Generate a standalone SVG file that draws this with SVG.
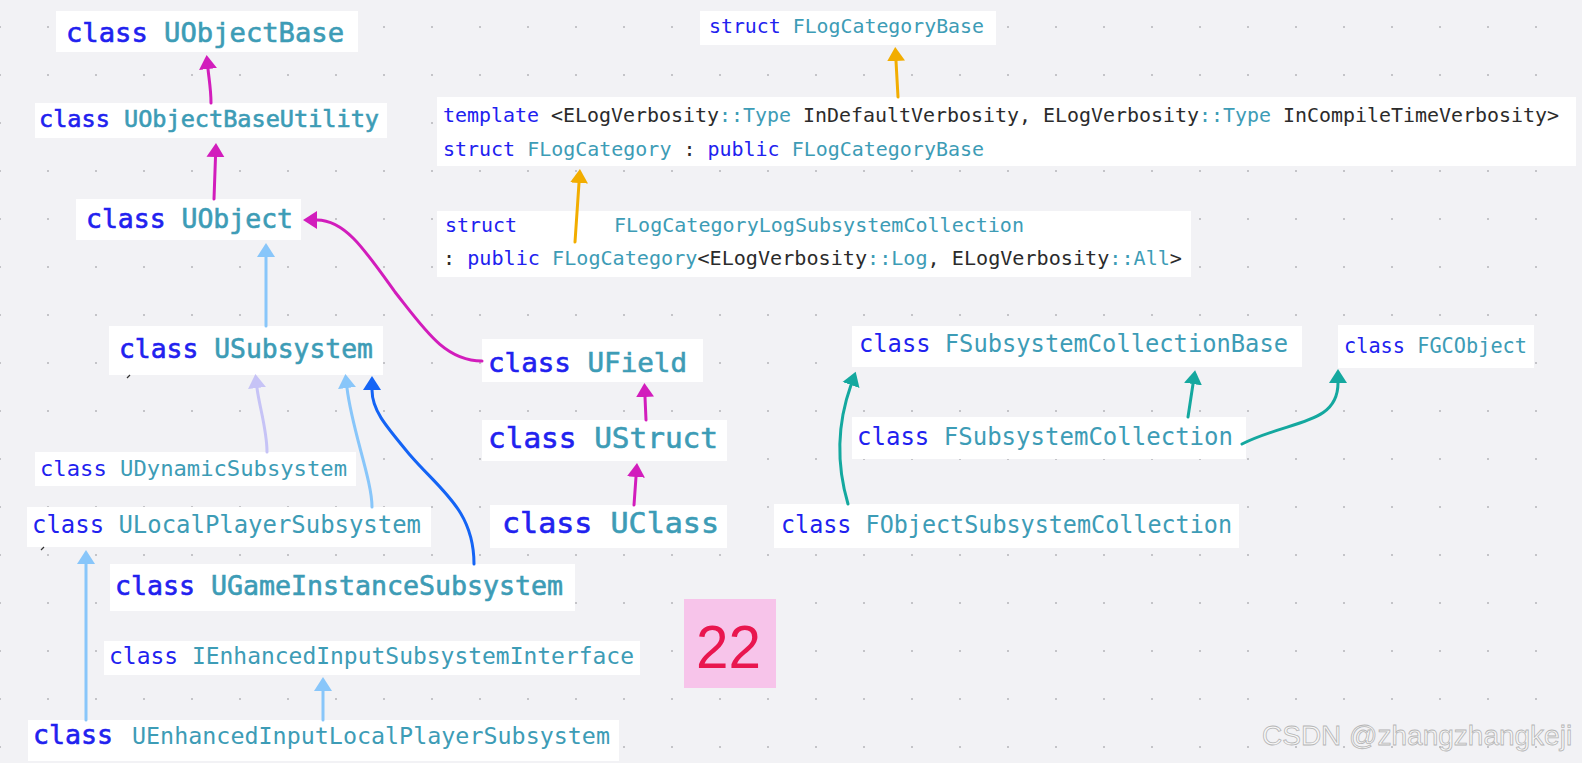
<svg xmlns="http://www.w3.org/2000/svg" width="1582" height="763" viewBox="0 0 1582 763">
<style>
.box{fill:#ffffff}
.t{font-family:"DejaVu Sans Mono","Liberation Mono",monospace}
.k{fill:#2121ef}
.n{fill:#3d9cb6}
.d{fill:#2b2b2b}
.w .k{stroke:#2121ef;stroke-width:0.6}
.w .n{stroke:#3d9cb6;stroke-width:0.6}
.c{fill:none;stroke-width:3;stroke-linecap:round}
.mag{stroke:#d21dbc}
.org{stroke:#f2ad00}
.lb{stroke:#88c6fa}
.lav{stroke:#c6c3f6}
.blu{stroke:#1464f5}
.tea{stroke:#14a89f}
.tick{fill:none;stroke:#333;stroke-width:1.2}
</style>
<defs>
<pattern id="dots" width="48" height="48" patternUnits="userSpaceOnUse" x="-1" y="26"><rect width="2" height="2" fill="#c4c4c8"/></pattern>
<marker id="aMag" markerUnits="userSpaceOnUse" markerWidth="16" markerHeight="20" viewBox="0 -10 16 20" refX="0" refY="0" orient="auto"><path d="M0,-9 L14,0 L0,9 Z" fill="#d21dbc"/></marker>
<marker id="aOrg" markerUnits="userSpaceOnUse" markerWidth="16" markerHeight="20" viewBox="0 -10 16 20" refX="0" refY="0" orient="auto"><path d="M0,-9 L14,0 L0,9 Z" fill="#f2ad00"/></marker>
<marker id="aLb" markerUnits="userSpaceOnUse" markerWidth="16" markerHeight="20" viewBox="0 -10 16 20" refX="0" refY="0" orient="auto"><path d="M0,-9 L14,0 L0,9 Z" fill="#88c6fa"/></marker>
<marker id="aLav" markerUnits="userSpaceOnUse" markerWidth="16" markerHeight="20" viewBox="0 -10 16 20" refX="0" refY="0" orient="auto"><path d="M0,-9 L14,0 L0,9 Z" fill="#c6c3f6"/></marker>
<marker id="aBlu" markerUnits="userSpaceOnUse" markerWidth="16" markerHeight="20" viewBox="0 -10 16 20" refX="0" refY="0" orient="auto"><path d="M0,-9 L14,0 L0,9 Z" fill="#1464f5"/></marker>
<marker id="aTea" markerUnits="userSpaceOnUse" markerWidth="16" markerHeight="20" viewBox="0 -10 16 20" refX="0" refY="0" orient="auto"><path d="M0,-9 L14,0 L0,9 Z" fill="#14a89f"/></marker>
</defs>
<rect width="1582" height="763" fill="#f2f2f5"/>
<rect width="1582" height="763" fill="url(#dots)"/>

<g id="UObjectBase"><rect class="box" x="56" y="11" width="302" height="41"/><text class="t w" x="66" y="42" font-size="26" textLength="278" lengthAdjust="spacingAndGlyphs"><tspan class="k">class</tspan> <tspan class="n">UObjectBase</tspan></text></g>
<g id="UObjectBaseUtility"><rect class="box" x="35" y="103" width="352" height="35"/><text class="t w" x="39" y="127" font-size="23" textLength="340" lengthAdjust="spacingAndGlyphs"><tspan class="k">class</tspan> <tspan class="n">UObjectBaseUtility</tspan></text></g>
<g id="UObject"><rect class="box" x="76" y="199" width="225" height="41"/><text class="t w" x="86" y="228" font-size="26" textLength="207" lengthAdjust="spacingAndGlyphs"><tspan class="k">class</tspan> <tspan class="n">UObject</tspan></text></g>
<g id="USubsystem"><rect class="box" x="109" y="326" width="274" height="49"/><text class="t w" x="119" y="358" font-size="26" textLength="254" lengthAdjust="spacingAndGlyphs"><tspan class="k">class</tspan> <tspan class="n">USubsystem</tspan></text><path class="tick" d="M127,378 L130,375"/></g>
<g id="UDynamicSubsystem"><rect class="box" x="35" y="452" width="321" height="34"/><text class="t" x="40" y="476" font-size="22" textLength="307" lengthAdjust="spacingAndGlyphs"><tspan class="k">class</tspan> <tspan class="n">UDynamicSubsystem</tspan></text></g>
<g id="ULocalPlayerSubsystem"><rect class="box" x="27" y="507" width="404" height="40"/><text class="t" x="32" y="533" font-size="24" textLength="389" lengthAdjust="spacingAndGlyphs"><tspan class="k">class</tspan> <tspan class="n">ULocalPlayerSubsystem</tspan></text><path class="tick" d="M41,550 L44,547"/></g>
<g id="UGameInstanceSubsystem"><rect class="box" x="110" y="564" width="465" height="47"/><text class="t w" x="115" y="595" font-size="26" textLength="448" lengthAdjust="spacingAndGlyphs"><tspan class="k">class</tspan> <tspan class="n">UGameInstanceSubsystem</tspan></text></g>
<g id="IEnhancedInputSubsystemInterface"><rect class="box" x="104" y="641" width="536" height="34"/><text class="t" x="109" y="664" font-size="23" textLength="525" lengthAdjust="spacingAndGlyphs"><tspan class="k">class</tspan> <tspan class="n">IEnhancedInputSubsystemInterface</tspan></text></g>
<g id="UEnhancedInputLocalPlayerSubsystem"><rect class="box" x="28" y="720" width="591" height="41"/><text class="t w" x="33" y="744" font-size="27" textLength="80" lengthAdjust="spacingAndGlyphs"><tspan class="k">class</tspan></text><text class="t n" x="132" y="744" font-size="23" textLength="478" lengthAdjust="spacingAndGlyphs">UEnhancedInputLocalPlayerSubsystem</text></g>
<g id="UField"><rect class="box" x="482" y="339" width="221" height="43"/><text class="t w" x="488" y="372" font-size="27" textLength="199" lengthAdjust="spacingAndGlyphs"><tspan class="k">class</tspan> <tspan class="n">UField</tspan></text></g>
<g id="UStruct"><rect class="box" x="482" y="420" width="245" height="41"/><text class="t w" x="488" y="448" font-size="28" textLength="230" lengthAdjust="spacingAndGlyphs"><tspan class="k">class</tspan> <tspan class="n">UStruct</tspan></text></g>
<g id="UClass"><rect class="box" x="490" y="505" width="237" height="43"/><text class="t w" x="502" y="533" font-size="29" textLength="217" lengthAdjust="spacingAndGlyphs"><tspan class="k">class</tspan> <tspan class="n">UClass</tspan></text></g>
<g id="FLogCategoryBase"><rect class="box" x="700" y="11" width="296" height="34"/><text class="t" x="709" y="33" font-size="19" textLength="275" lengthAdjust="spacingAndGlyphs"><tspan class="k">struct</tspan> <tspan class="n">FLogCategoryBase</tspan></text></g>
<g id="FLogCategory"><rect class="box" x="437" y="97" width="1139" height="69"/><text class="t" x="443" y="122" font-size="19" textLength="1116" lengthAdjust="spacingAndGlyphs"><tspan class="k">template</tspan><tspan class="d"> &lt;ELogVerbosity</tspan><tspan class="n">::Type</tspan><tspan class="d"> InDefaultVerbosity, ELogVerbosity</tspan><tspan class="n">::Type</tspan><tspan class="d"> InCompileTimeVerbosity&gt;</tspan></text><text class="t" x="443" y="156" font-size="19" textLength="541" lengthAdjust="spacingAndGlyphs"><tspan class="k">struct</tspan> <tspan class="n">FLogCategory</tspan><tspan class="d"> : </tspan><tspan class="k">public</tspan> <tspan class="n">FLogCategoryBase</tspan></text></g>
<g id="FLogCategoryLogSubsystemCollection"><rect class="box" x="437" y="211" width="754" height="66"/><text class="t k" x="445" y="232" font-size="19" textLength="72" lengthAdjust="spacingAndGlyphs">struct</text><text class="t n" x="614" y="232" font-size="19" textLength="410" lengthAdjust="spacingAndGlyphs">FLogCategoryLogSubsystemCollection</text><text class="t" x="443" y="265" font-size="19" textLength="739" lengthAdjust="spacingAndGlyphs"><tspan class="d">: </tspan><tspan class="k">public</tspan> <tspan class="n">FLogCategory</tspan><tspan class="d">&lt;ELogVerbosity</tspan><tspan class="n">::Log</tspan><tspan class="d">, ELogVerbosity</tspan><tspan class="n">::All</tspan><tspan class="d">&gt;</tspan></text></g>
<g id="FSubsystemCollectionBase"><rect class="box" x="852" y="326" width="450" height="41"/><text class="t" x="859" y="352" font-size="25" textLength="429" lengthAdjust="spacingAndGlyphs"><tspan class="k">class</tspan> <tspan class="n">FSubsystemCollectionBase</tspan></text></g>
<g id="FGCObject"><rect class="box" x="1338" y="325" width="196" height="43"/><text class="t" x="1344" y="353" font-size="21" textLength="183" lengthAdjust="spacingAndGlyphs"><tspan class="k">class</tspan> <tspan class="n">FGCObject</tspan></text></g>
<g id="FSubsystemCollection"><rect class="box" x="852" y="417" width="394" height="42"/><text class="t" x="857" y="445" font-size="25" textLength="376" lengthAdjust="spacingAndGlyphs"><tspan class="k">class</tspan> <tspan class="n">FSubsystemCollection</tspan></text></g>
<g id="FObjectSubsystemCollection"><rect class="box" x="774" y="504" width="465" height="44"/><text class="t" x="781" y="533" font-size="25" textLength="451" lengthAdjust="spacingAndGlyphs"><tspan class="k">class</tspan> <tspan class="n">FObjectSubsystemCollection</tspan></text></g>
<g id="badge22"><rect x="684" y="599" width="92" height="89" fill="#f7c4ea"/><text x="696" y="668" font-family="Liberation Sans, Arial, sans-serif" font-size="62" fill="#e9164f" textLength="65" lengthAdjust="spacingAndGlyphs">22</text></g>

<g id="connectors">
<path class="c mag" d="M211,103 C211,90 209,79 208,69" marker-end="url(#aMag)"/>
<path class="c mag" d="M214,199 L215.5,157" marker-end="url(#aMag)"/>
<path class="c mag" d="M482,361 C445,361 425,330 395,292 C365,250 345,220 317,220" marker-end="url(#aMag)"/>
<path class="c lb" d="M266,326 L266,257" marker-end="url(#aLb)"/>
<path class="c lav" d="M267,452 C267,430 259,405 257,388" marker-end="url(#aLav)"/>
<path class="c lb" d="M372,507 C372,480 352,430 347,388" marker-end="url(#aLb)"/>
<path class="c blu" d="M474,564 C474,510 440,490 410,455 C385,425 372,410 372,390" marker-end="url(#aBlu)"/>
<path class="c mag" d="M646,420 L645,397" marker-end="url(#aMag)"/>
<path class="c mag" d="M634,505 L636,477" marker-end="url(#aMag)"/>
<path class="c org" d="M898,97 L896,61" marker-end="url(#aOrg)"/>
<path class="c org" d="M575,242 L579,183" marker-end="url(#aOrg)"/>
<path class="c tea" d="M848,504 C838,470 835,430 851,385" marker-end="url(#aTea)"/>
<path class="c tea" d="M1188,417 L1193,384" marker-end="url(#aTea)"/>
<path class="c tea" d="M1242,444 C1290,420 1338,425 1338,383" marker-end="url(#aTea)"/>
<path class="c lb" d="M86,720 L86,564" marker-end="url(#aLb)"/>
<path class="c lb" d="M323,720 L323,691" marker-end="url(#aLb)"/>
</g>

<text x="1262" y="745" font-family="Liberation Sans, Arial, sans-serif" font-size="28" fill="#f7f7f7" stroke="#b5b5b5" stroke-width="0.8">CSDN @zhangzhangkeji</text>
</svg>
